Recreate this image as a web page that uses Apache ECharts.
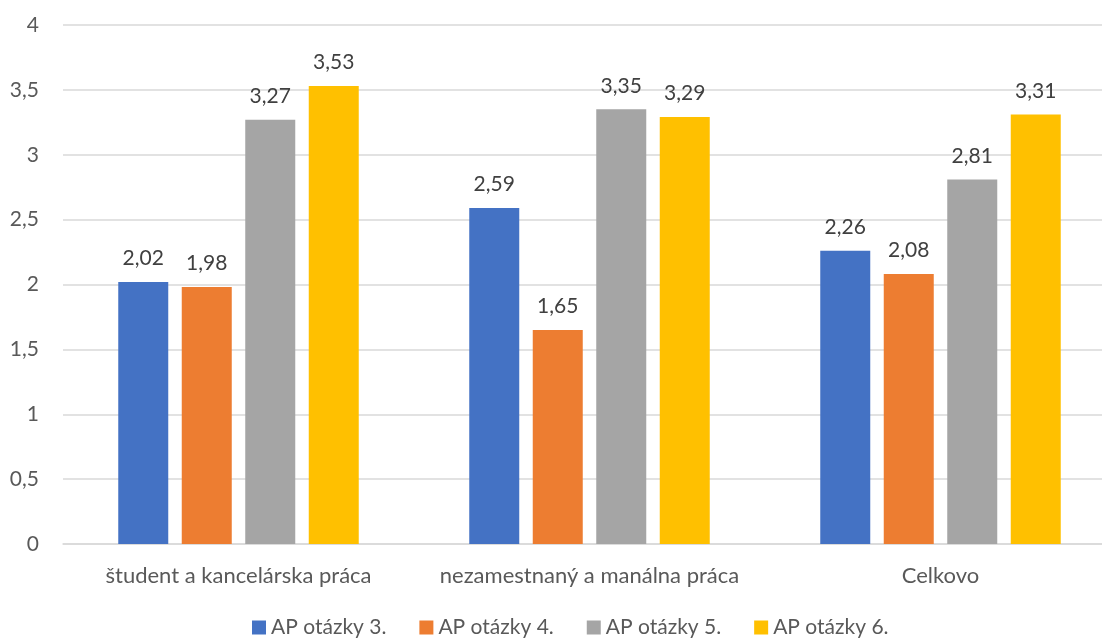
<!DOCTYPE html>
<html>
<head>
<meta charset="utf-8">
<script src="https://cdn.jsdelivr.net/npm/echarts@6/dist/echarts.min.js"></script>
<style>
  html, body { margin: 0; padding: 0; background: #fff; overflow: hidden; }
  #chart { width: 1120px; height: 639px; }
</style>
</head>
<body>
<div id="chart"></div>
<script>
const categories = ['študent a kancelárska práca', 'nezamestnaný a manálna práca', 'Celkovo'];
const seriesNames = ['AP otázky 3.', 'AP otázky 4.', 'AP otázky 5.', 'AP otázky 6.'];
const q3 = [2.02, 2.59, 2.26];
const q4 = [1.98, 1.65, 2.08];
const q5 = [3.27, 3.35, 2.81];
const q6 = [3.53, 3.29, 3.31];
const colors = ['#4472C4', '#ED7D31', '#A5A5A5', '#FFC000'];

const FONT = 'Lato, "Open Sans", sans-serif';
const FS = 21;
const comma = v => String(v).replace('.', ',');

const chart = echarts.init(document.getElementById('chart'), null, { renderer: 'canvas' });

const seriesData = [q3, q4, q5, q6];
const series = seriesData.map((d, i) => ({
  name: seriesNames[i],
  type: 'bar',
  data: d,
  barWidth: 50,
  barGap: '27%',
  itemStyle: { color: colors[i] },
  label: {
    show: true,
    position: 'top',
    distance: 13,
    color: '#404040',
    fontFamily: FONT,
    fontSize: FS,
    formatter: p => comma(p.value.toFixed(2))
  }
}));

chart.setOption({
  animation: false,
  backgroundColor: '#fff',
  textStyle: { fontFamily: FONT },
  grid: { left: 63, top: 25, width: 1053, height: 519, containLabel: false },
  legend: {
    left: 247,
    top: 612,
    itemWidth: 14,
    itemHeight: 14,
    itemGap: 33,
    icon: 'rect',
    data: seriesNames,
    textStyle: { color: '#595959', fontSize: FS, fontFamily: FONT }
  },
  xAxis: {
    type: 'category',
    data: categories,
    axisLine: { lineStyle: { color: '#d9d9d9', width: 1.5 } },
    axisTick: { show: false },
    axisLabel: { color: '#595959', fontSize: 22, fontFamily: FONT, margin: 21, interval: 0 }
  },
  yAxis: {
    type: 'value',
    min: 0,
    max: 4,
    interval: 0.5,
    axisLine: { show: false },
    axisTick: { show: false },
    splitLine: { lineStyle: { color: '#d9d9d9', width: 1.5 } },
    axisLabel: { color: '#595959', fontSize: FS, fontFamily: FONT, margin: 24, formatter: v => comma(v) }
  },
  series
});
</script>
</body>
</html>
